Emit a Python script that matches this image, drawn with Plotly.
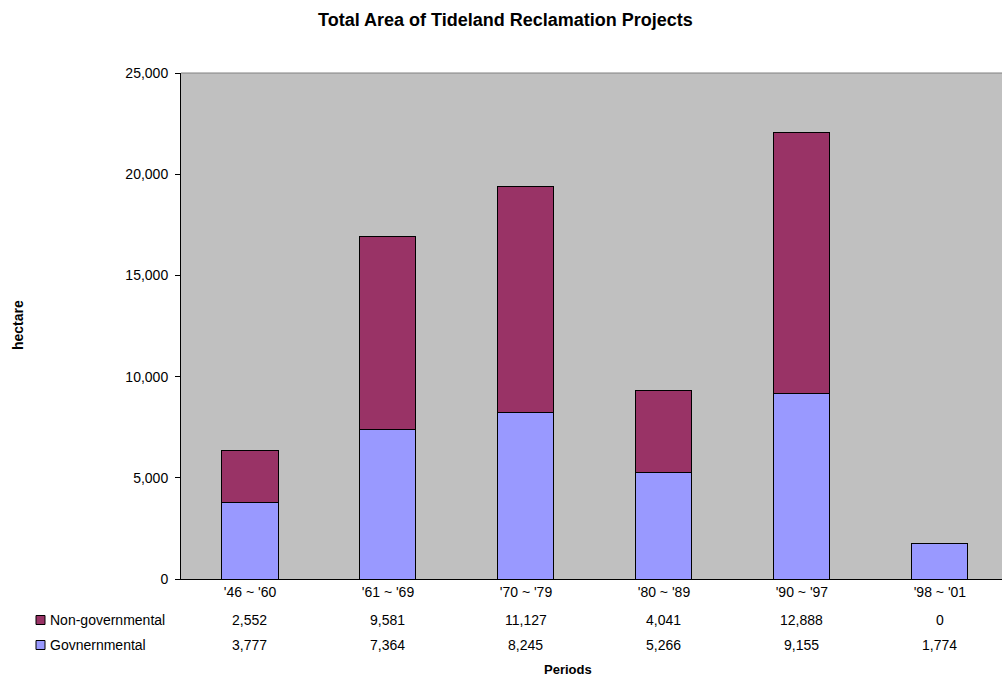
import plotly.graph_objects as go

periods = ["'46 ~ '60", "'61 ~ '69", "'70 ~ '79", "'80 ~ '89", "'90 ~ '97", "'98 ~ '01"]
non_gov = [2552, 9581, 11127, 4041, 12888, 0]
gov = [3777, 7364, 8245, 5266, 9155, 1774]

C_NON = "#993366"
C_GOV = "#9999FF"
FONT = "Liberation Sans, Arial, sans-serif"

W, H = 1002, 678
L, R, T, B = 181, 0, 73, 99
PW, PH = W - L - R, H - T - B

def px_to_paper_x(px):
    return (px - L) / PW

def px_to_paper_y(py):
    return (H - B - py) / PH

fig = go.Figure()
fig.add_trace(go.Bar(x=periods, y=gov, name="Govnernmental", marker=dict(color=C_GOV, line=dict(color="black", width=1))))
fig.add_trace(go.Bar(x=periods, y=non_gov, name="Non-governmental", marker=dict(color=C_NON, line=dict(color="black", width=1))))

annotations = []
rows = [("Non-governmental", non_gov, C_NON, 620), ("Govnernmental", gov, C_GOV, 645)]
for label, vals, col, py in rows:
    yp = px_to_paper_y(py)
    for p, v in zip(periods, vals):
        annotations.append(dict(x=p, y=yp, xref="x", yref="paper", text=f"{v:,}", showarrow=False,
                                font=dict(family=FONT, size=14, color="black"), xanchor="center", yanchor="middle"))
    annotations.append(dict(x=px_to_paper_x(48), y=yp, xref="paper", yref="paper", text=label, showarrow=False,
                            font=dict(family=FONT, size=14, color="black"), xanchor="left", yanchor="middle"))

shapes = []
for label, vals, col, py in rows:
    shapes.append(dict(type="rect", xref="paper", yref="paper",
                       x0=px_to_paper_x(36), x1=px_to_paper_x(45),
                       y0=px_to_paper_y(py - 4.5), y1=px_to_paper_y(py + 4.5),
                       fillcolor=col, line=dict(color="black", width=1)))

annotations.append(dict(x=px_to_paper_x(568), y=px_to_paper_y(669), xref="paper", yref="paper", text="<b>Periods</b>",
                        showarrow=False, font=dict(family=FONT, size=13, color="black"), xanchor="center", yanchor="middle"))
annotations.append(dict(x=px_to_paper_x(18), y=px_to_paper_y(325), xref="paper", yref="paper", text="<b>hectare</b>",
                        textangle=-90, showarrow=False, font=dict(family=FONT, size=14, color="black"),
                        xanchor="center", yanchor="middle"))
annotations.append(dict(x=px_to_paper_x(505), y=px_to_paper_y(20), xref="paper", yref="paper",
                        text="<b>Total Area of Tideland Reclamation Projects</b>",
                        showarrow=False, font=dict(family=FONT, size=18, color="black"), xanchor="center", yanchor="middle"))

fig.update_layout(
    width=W, height=H,
    margin=dict(l=L, r=R, t=T, b=B),
    barmode="stack", bargap=0.594,
    plot_bgcolor="#C0C0C0", paper_bgcolor="white",
    showlegend=False,
    annotations=annotations, shapes=shapes,
    xaxis=dict(range=[-0.5, 5.45], showline=True, linecolor="black", linewidth=1, ticks="", showgrid=False,
               tickfont=dict(family=FONT, size=14, color="black"), mirror=False),
    yaxis=dict(range=[0, 25000], dtick=5000, tickformat=",", showline=True, linecolor="black", linewidth=1,
               ticks="outside", ticklen=5, tickcolor="black", showgrid=False, zeroline=False,
               ticklabelstandoff=4,
               tickfont=dict(family=FONT, size=14, color="black")),
)
fig.add_shape(type="line", xref="paper", yref="paper", x0=0, x1=1, y0=1, y1=1, line=dict(color="#808080", width=1))

fig.write_html("out.html")
